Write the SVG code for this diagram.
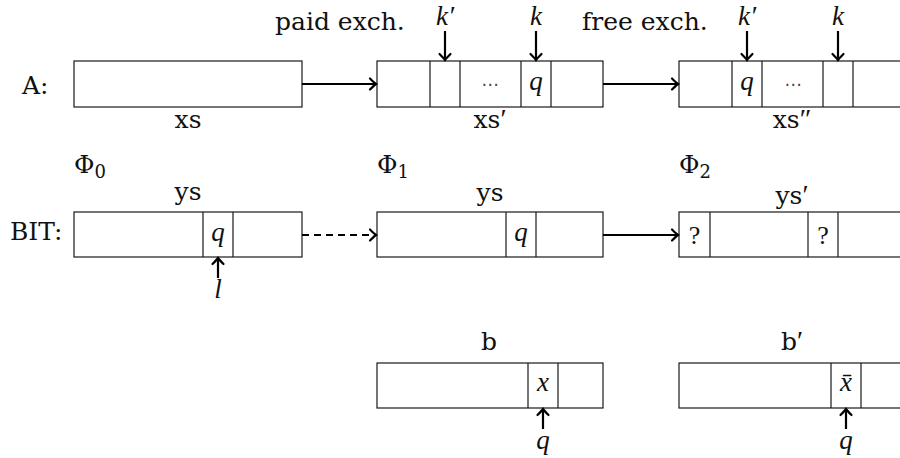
<svg xmlns="http://www.w3.org/2000/svg" width="900" height="458" viewBox="0 0 900 458">
  <defs>
    <style>
      .box { fill: #ffffff; stroke: #1a1a1a; stroke-width: 1.2; }
      .sep { stroke: #1a1a1a; stroke-width: 1.2; fill: none; }
      .txt { font-family: "DejaVu Serif", "Liberation Serif", serif; font-size: 25px; fill: #111; }
      .lbl { font-family: "DejaVu Serif", "Liberation Serif", serif; font-size: 25px; fill: #111; text-anchor: middle; }
      .pr { font-family: "Liberation Serif", serif; font-size: 28px; }
      .phi { font-family: "DejaVu Serif", "Liberation Serif", serif; font-size: 25px; fill: #111; }
      .sub { font-size: 18px; }
      .math { font-family: "Liberation Serif", "DejaVu Serif", serif; font-style: italic; font-size: 27px; fill: #111; text-anchor: middle; }
      .dots { font-family: "DejaVu Sans", sans-serif; font-size: 17px; fill: #444; text-anchor: middle; }
      .qm { font-family: "Liberation Serif", "DejaVu Serif", serif; font-size: 26px; fill: #111; text-anchor: middle; }
      .arr { stroke: #000; stroke-width: 2.2; fill: none; marker-end: url(#tip); }
      .dash { stroke-dasharray: 7 5; }
    </style>
    <marker id="tip" markerUnits="userSpaceOnUse" markerWidth="14" markerHeight="14" viewBox="-8 -7 10 14" refX="0" refY="0" orient="auto" overflow="visible">
      <path d="M-6,-5.5 Q-1.8,-1.3 0,0 Q-1.8,1.3 -6,5.5" fill="none" stroke="#000" stroke-width="2.2" stroke-linecap="round"/>
    </marker>
  </defs>

  <!-- row labels and transition captions -->
  <g id="row-labels">
    <text class="txt" x="22" y="94">A:</text>
    <text class="txt" x="10" y="240">BIT:</text>
    <text class="txt" x="275" y="30">paid exch.</text>
    <text class="txt" x="582" y="30">free exch.</text>
  </g>

  <!-- potentials -->
  <g id="phi0"><text class="phi" x="74" y="173">Φ<tspan class="sub" dy="5">0</tspan></text></g>
  <g id="phi1"><text class="phi" x="377" y="173">Φ<tspan class="sub" dy="5">1</tspan></text></g>
  <g id="phi2"><text class="phi" x="679" y="173">Φ<tspan class="sub" dy="5">2</tspan></text></g>

  <!-- list A, state 0 -->
  <g id="xs">
    <rect class="box" x="74" y="61" width="228" height="46"/>
    <text class="lbl" x="188" y="128">xs</text>
  </g>

  <!-- list A, after paid exchange -->
  <g id="xs1">
    <rect class="box" x="377" y="61" width="226" height="46"/>
    <path class="sep" d="M430,61V107M460,61V107M521,61V107M551,61V107"/>
    <text class="dots" x="490" y="90">⋯</text>
    <text class="math" x="536" y="90">q</text>
    <text class="lbl" x="490" y="128">xs<tspan class="pr">′</tspan></text>
  </g>

  <!-- list A, after free exchange -->
  <g id="xs2">
    <rect class="box" x="679" y="61" width="228" height="46"/>
    <path class="sep" d="M732,61V107M762,61V107M823,61V107M853,61V107"/>
    <text class="math" x="747" y="90">q</text>
    <text class="dots" x="793" y="90">⋯</text>
    <text class="lbl" x="792" y="128">xs<tspan class="pr">″</tspan></text>
  </g>

  <!-- bit array, state 0 -->
  <g id="ys0">
    <text class="lbl" x="188" y="200">ys</text>
    <rect class="box" x="74" y="212" width="228" height="45"/>
    <path class="sep" d="M203,212V257M233,212V257"/>
    <text class="math" x="218" y="241">q</text>
    <text class="math" x="218" y="298">l</text>
  </g>

  <!-- bit array, state 1 -->
  <g id="ys1">
    <text class="lbl" x="490" y="201">ys</text>
    <rect class="box" x="377" y="212" width="226" height="45"/>
    <path class="sep" d="M506,212V257M536,212V257"/>
    <text class="math" x="521" y="241">q</text>
  </g>

  <!-- bit array, state 2 -->
  <g id="ys2">
    <rect class="box" x="679" y="212" width="228" height="45"/>
    <path class="sep" d="M710,212V257M808,212V257M838,212V257"/>
    <text class="qm" x="694.5" y="244">?</text>
    <text class="qm" x="823" y="244">?</text>
    <text class="lbl" x="792" y="204">ys<tspan class="pr">′</tspan></text>
  </g>

  <!-- buffer b -->
  <g id="b">
    <text class="lbl" x="489" y="350">b</text>
    <rect class="box" x="377" y="363" width="226" height="45"/>
    <path class="sep" d="M528,363V408M558,363V408"/>
    <text class="math" x="543" y="391">x</text>
    <text class="math" x="543" y="449">q</text>
  </g>

  <!-- buffer b' -->
  <g id="b2">
    <text class="lbl" x="792" y="350">b<tspan class="pr">′</tspan></text>
    <rect class="box" x="679" y="363" width="228" height="45"/>
    <path class="sep" d="M831,363V408M861,363V408"/>
    <text class="math" x="846" y="391">x̄</text>
    <text class="math" x="846" y="449">q</text>
  </g>

  <!-- pointer labels on top of list A -->
  <g id="pointers">
    <text class="math" x="445" y="25">k<tspan class="pr">′</tspan></text>
    <text class="math" x="536" y="25">k</text>
    <text class="math" x="747" y="25">k<tspan class="pr">′</tspan></text>
    <text class="math" x="838" y="25">k</text>
  </g>

  <!-- connectors -->
  <g id="connectors">
    <line class="arr" x1="302" y1="84" x2="376" y2="84"/>
    <line class="arr" x1="603" y1="84" x2="678" y2="84"/>
    <line class="arr dash" x1="302" y1="235" x2="376" y2="235"/>
    <line class="arr" x1="603" y1="235" x2="678" y2="235"/>
    <line class="arr" x1="445" y1="31" x2="445" y2="60"/>
    <line class="arr" x1="536" y1="31" x2="536" y2="60"/>
    <line class="arr" x1="747" y1="31" x2="747" y2="60"/>
    <line class="arr" x1="838" y1="31" x2="838" y2="60"/>
    <line class="arr" x1="218" y1="278" x2="218" y2="258"/>
    <line class="arr" x1="543" y1="429" x2="543" y2="409"/>
    <line class="arr" x1="846" y1="429" x2="846" y2="409"/>
  </g>
</svg>
